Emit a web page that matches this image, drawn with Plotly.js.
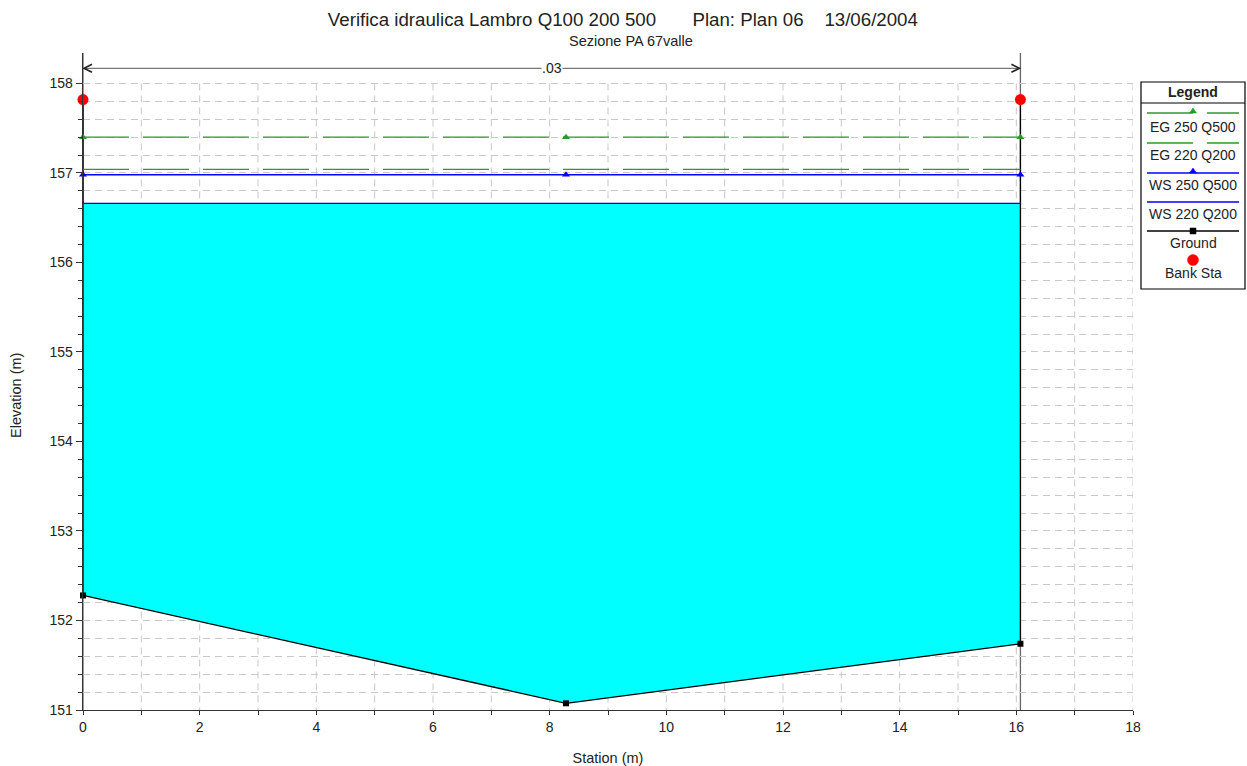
<!DOCTYPE html>
<html>
<head>
<meta charset="utf-8">
<script src="https://cdn.plot.ly/plotly-3.0.1.min.js"></script>
<style>
  html, body { margin: 0; padding: 0; background: #fff; }
  #chart { width: 1247px; height: 766px; }
</style>
</head>
<body>
<div id="chart"></div>
<script>
// ---------------- data ----------------
const titleMain = "Verifica idraulica Lambro Q100 200 500\u00a0\u00a0\u00a0\u00a0\u00a0\u00a0\u00a0Plan: Plan 06\u00a0\u00a0\u00a0\u00a013/06/2004";
const subTitle = "Sezione PA 67valle";
const xTitle = "Station (m)";
const yTitle = "Elevation (m)";

const groundX = [0, 0, 8.28, 16.07, 16.07];
const groundY = [157.82, 152.28, 151.075, 151.74, 157.82];

const profileX = [0, 8.28, 16.07];
const eg250Q500 = [157.40, 157.40, 157.40];
const eg220Q200 = [157.04, 157.04, 157.04];
const ws250Q500 = [156.98, 156.98, 156.98];
const ws220Q200 = [156.66, 156.66, 156.66];

const bankX = [0, 16.07];
const bankY = [157.82, 157.82];

const nStations = [0, 16.07];
const nValues = [".03"];

const seriesNames = ["EG 250 Q500", "EG 220 Q200", "WS 250 Q500", "WS 220 Q200", "Ground", "Bank Sta"];

const xTickVals = [0, 2, 4, 6, 8, 10, 12, 14, 16, 18];
const yTickVals = [151, 152, 153, 154, 155, 156, 157, 158];

// ---------------- styles ----------------
const GREEN = "#2a9a2a";
const BLUE = "#0000ff";
const FONT = "Liberation Sans, Arial, sans-serif";
const TXT = "#222222";

// plot box geometry (px)
const L = 83, R = 114, T = 53, B = 56, W = 1247, H = 766;
const PW = W - L - R, PH = H - T - B;
const px = x => (x - L) / PW;
const py = y => (H - B - y) / PH;

// water polygon from ground clipped at WS 220 Q200
const wsLevel = ws220Q200[0];
const fillX = groundX.slice();
const fillY = groundY.map(v => Math.min(v, wsLevel));

const traces = [
  { x: fillX, y: fillY, mode: "lines", fill: "toself", fillcolor: "#00ffff",
    line: { width: 0, color: "#00ffff" }, hoverinfo: "skip", showlegend: false },
  { x: groundX, y: groundY, name: seriesNames[4], mode: "lines+markers", cliponaxis: false,
    line: { color: "#000", width: 1.3 }, marker: { symbol: "square", size: 6, color: "#000" }, showlegend: false },
  { x: profileX, y: ws220Q200, name: seriesNames[3], mode: "lines",
    line: { color: BLUE, width: 1.3 }, showlegend: false },
  { x: profileX, y: ws250Q500, name: seriesNames[2], mode: "lines+markers", cliponaxis: false,
    line: { color: BLUE, width: 1.3 }, marker: { symbol: "triangle-up", size: 7, color: BLUE }, showlegend: false },
  { x: profileX, y: eg220Q200, name: seriesNames[1], mode: "lines",
    line: { color: GREEN, width: 1.4, dash: "46px,14px" }, showlegend: false },
  { x: profileX, y: eg250Q500, name: seriesNames[0], mode: "lines+markers", cliponaxis: false,
    line: { color: GREEN, width: 1.4, dash: "46px,14px" }, marker: { symbol: "triangle-up", size: 7, color: GREEN }, showlegend: false },
  { x: bankX, y: bankY, name: seriesNames[5], mode: "markers", cliponaxis: false,
    marker: { symbol: "circle", size: 11, color: "#ff0000" }, showlegend: false }
];

// ---------------- shapes ----------------
const shapes = [];
// vertical dashed grid (only up to 158)
for (let gx = 1; gx <= 18; gx++) {
  shapes.push({ type: "line", xref: "x", yref: "y", x0: gx, x1: gx, y0: 158, y1: 151,
    layer: "below", line: { color: "#c8c8c8", width: 1, dash: "7px,5px" } });
}
// n-value station lines (vertical, to top)
nStations.forEach(s => {
  shapes.push({ type: "line", xref: "x", yref: "paper", x0: s, x1: s, y0: 0, y1: 1,
    layer: "below", line: { color: "#666", width: 1.3 } });
});
// dimension line with arrowheads
const dimY = py(68.3);
shapes.push({ type: "line", xref: "x", yref: "paper", x0: nStations[0], x1: nStations[1], y0: dimY, y1: dimY,
  line: { color: "#777", width: 1.3 } });
shapes.push({ type: "path", xref: "x", yref: "paper", xsizemode: "pixel", ysizemode: "pixel",
  xanchor: nStations[0], yanchor: dimY, path: "M 9 -4 L 1 0 L 9 4", line: { color: "#222", width: 1.6 } });
shapes.push({ type: "path", xref: "x", yref: "paper", xsizemode: "pixel", ysizemode: "pixel",
  xanchor: nStations[1], yanchor: dimY, path: "M -9 -4 L -1 0 L -9 4", line: { color: "#222", width: 1.6 } });

// ---------------- custom legend ----------------
const lgL = 1141, lgR = 1245, lgT = 82, lgB = 289, lgHead = 103;
shapes.push({ type: "rect", xref: "paper", yref: "paper", x0: px(lgL), x1: px(lgR), y0: py(lgT), y1: py(lgB),
  line: { color: "#000", width: 1.2 }, fillcolor: "#fff" });
shapes.push({ type: "line", xref: "paper", yref: "paper", x0: px(lgL), x1: px(lgR), y0: py(lgHead), y1: py(lgHead),
  line: { color: "#000", width: 1.2 } });

const lgLine0 = 1147, lgLine1 = 1239, lgMid = 1193;
const legendItems = [
  { name: seriesNames[0], lineY: 113, textY: 127, color: GREEN, dash: "46px,14px", mark: "tri" },
  { name: seriesNames[1], lineY: 143, textY: 155, color: GREEN, dash: "46px,14px", mark: null },
  { name: seriesNames[2], lineY: 173, textY: 185, color: BLUE, dash: "solid", mark: "tri" },
  { name: seriesNames[3], lineY: 202, textY: 214, color: BLUE, dash: "solid", mark: null },
  { name: seriesNames[4], lineY: 231, textY: 243, color: "#000", dash: "solid", mark: "sq" },
  { name: seriesNames[5], lineY: 260, textY: 273, color: "#ff0000", dash: null, mark: "circ" }
];
const annotations = [];
legendItems.forEach(it => {
  if (it.dash) {
    shapes.push({ type: "line", xref: "paper", yref: "paper", x0: px(lgLine0), x1: px(lgLine1),
      y0: py(it.lineY), y1: py(it.lineY), line: { color: it.color, width: 1.3, dash: it.dash } });
  }
  if (it.mark === "tri") {
    shapes.push({ type: "path", xref: "paper", yref: "paper", xsizemode: "pixel", ysizemode: "pixel",
      xanchor: px(lgMid), yanchor: py(it.lineY), path: "M -3.5 0 L 3.5 0 L 0 5 Z",
      fillcolor: it.color, line: { color: it.color, width: 0.5 } });
  } else if (it.mark === "sq") {
    shapes.push({ type: "rect", xref: "paper", yref: "paper", xsizemode: "pixel", ysizemode: "pixel",
      xanchor: px(lgMid), yanchor: py(it.lineY), x0: -3, x1: 3, y0: -3, y1: 3,
      fillcolor: it.color, line: { color: it.color, width: 0.5 } });
  } else if (it.mark === "circ") {
    shapes.push({ type: "circle", xref: "paper", yref: "paper", xsizemode: "pixel", ysizemode: "pixel",
      xanchor: px(lgMid), yanchor: py(it.lineY), x0: -5.5, x1: 5.5, y0: -5.5, y1: 5.5,
      fillcolor: it.color, line: { color: it.color, width: 0.5 } });
  }
  annotations.push({ xref: "paper", yref: "paper", x: px(lgMid), y: py(it.textY), text: it.name,
    showarrow: false, xanchor: "center", yanchor: "middle", font: { family: FONT, size: 14, color: TXT } });
});
annotations.push({ xref: "paper", yref: "paper", x: px(lgMid), y: py(92), text: "<b>Legend</b>",
  showarrow: false, xanchor: "center", yanchor: "middle", font: { family: FONT, size: 14, color: TXT } });

// n value label
annotations.push({ xref: "x", yref: "paper", x: (nStations[0] + nStations[1]) / 2, y: dimY, text: nValues[0],
  showarrow: false, xanchor: "center", yanchor: "middle", bgcolor: "#fff", borderpad: 0,
  font: { family: FONT, size: 14, color: TXT } });
// subtitle
annotations.push({ xref: "paper", yref: "paper", x: px(631), y: py(41), text: subTitle,
  showarrow: false, xanchor: "center", yanchor: "middle", font: { family: FONT, size: 14.5, color: TXT } });
// y title
annotations.push({ xref: "paper", yref: "paper", x: px(16), y: py(396), text: yTitle, textangle: -90,
  showarrow: false, xanchor: "center", yanchor: "middle", font: { family: FONT, size: 14.5, color: TXT } });

// minor y ticks every 0.2
const yMinor = [];
for (let i = 1; i <= 35; i++) yMinor.push(Math.round((151 + i * 0.2) * 10) / 10);
const xMinor = [];
for (let i = 1; i <= 17; i += 2) xMinor.push(i);

const layout = {
  width: W, height: H,
  margin: { l: L, r: R, t: T, b: B },
  paper_bgcolor: "#fff", plot_bgcolor: "#fff",
  font: { family: FONT, size: 14, color: TXT },
  title: { text: titleMain, x: 0.4995, xref: "container", xanchor: "center",
    y: 1 - 19 / H, yref: "container", yanchor: "middle", font: { family: FONT, size: 18.7, color: TXT } },
  xaxis: {
    range: [0, 18], tickmode: "array", tickvals: xTickVals, ticks: "outside", ticklen: 4, tickwidth: 1,
    tickcolor: "#333", showline: true, linecolor: "#333", linewidth: 1.3, showgrid: false, zeroline: false,
    tickfont: { family: FONT, size: 14, color: TXT },
    minor: { tickmode: "array", tickvals: xMinor, ticks: "outside", ticklen: 4, tickcolor: "#333", showgrid: false },
    title: { text: xTitle, standoff: 18, font: { family: FONT, size: 14.5, color: TXT } }
  },
  yaxis: {
    range: [151, 158.34], tickmode: "array", tickvals: yTickVals, ticks: "outside", ticklen: 6, tickwidth: 1,
    tickcolor: "#333", showline: true, linecolor: "#333", linewidth: 1.3, zeroline: false,
    showgrid: true, gridcolor: "#c8c8c8", gridwidth: 1, griddash: "7px,5px",
    tickfont: { family: FONT, size: 14, color: TXT },
    minor: { tickmode: "array", tickvals: yMinor, ticks: "outside", ticklen: 4, tickcolor: "#333",
      showgrid: true, gridcolor: "#c8c8c8", gridwidth: 1, griddash: "7px,5px" }
  },
  shapes: shapes,
  annotations: annotations,
  showlegend: false
};

Plotly.newPlot("chart", traces, layout, { staticPlot: true, displayModeBar: false });
</script>
</body>
</html>
